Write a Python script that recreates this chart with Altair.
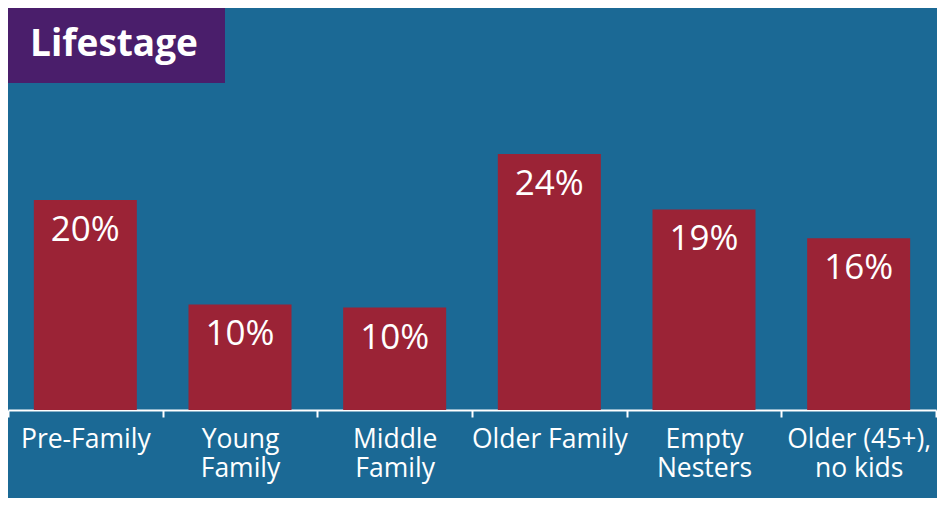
import altair as alt
import pandas as pd

categories = ["Pre-Family", "Young\nFamily", "Middle\nFamily", "Older Family", "Empty\nNesters", "Older (45+),\nno kids"]
values = [19.7, 9.9, 9.6, 24.0, 18.8, 16.1]
labels = ["20%", "10%", "10%", "24%", "19%", "16%"]
title_text = ["Lifestage"]

BG = "#1b6995"
RED = "#9b2336"
PURPLE = "#4a1e6b"
FONT = "Open Sans"

df = pd.DataFrame({"cat": categories, "value": values, "label": labels})
tdf = pd.DataFrame({"t": title_text})

x = alt.X(
    "cat:N",
    sort=categories,
    title=None,
    scale=alt.Scale(paddingInner=0, paddingOuter=0),
    axis=alt.Axis(
        tickBand="extent",
        labelAngle=0,
        labelExpr="split(datum.label, '\\n')",
        labelFont=FONT,
        labelFontSize=26.5,
        labelLineHeight=29,
        labelColor="white",
        labelPadding=9,
        domainColor="white",
        domainWidth=2,
        tickColor="white",
        tickWidth=2,
        tickSize=7,
        grid=False,
    ),
)
y = alt.Y("value:Q", scale=alt.Scale(domain=[0, 37.69], nice=False), axis=None)

bars = alt.Chart(df).mark_bar(color=RED, width=alt.RelativeBandSize(0.666)).encode(x=x, y=y)
txt = alt.Chart(df).mark_text(
    color="white", font=FONT, fontSize=35, baseline="alphabetic", dy=41
).encode(x=x, y=y, text="label:N")

box = alt.Chart(tdf).mark_rect(color=PURPLE).encode(
    x=alt.value(0), x2=alt.value(217), y=alt.value(0), y2=alt.value(75)
)
ttl = alt.Chart(tdf).mark_text(
    color="white", font=FONT, fontSize=37, fontWeight="bold", align="left", baseline="alphabetic"
).encode(x=alt.value(22), y=alt.value(48), text="t:N")

chart = (
    alt.layer(bars, txt, box, ttl)
    .properties(
        width=928,
        height=402,
        autosize=alt.AutoSizeParams(type="none"),
        padding={"left": 0, "top": 0, "right": 1, "bottom": 88},
        background=BG,
    )
    .configure_view(stroke=None)
)

chart.save("out.html", embed_options={"renderer": "svg", "actions": False})
